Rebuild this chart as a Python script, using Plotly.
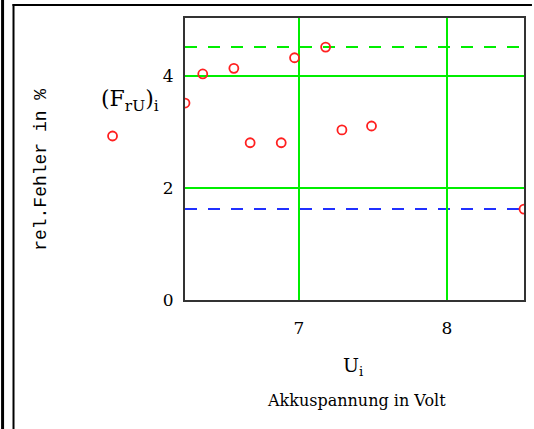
import plotly.graph_objects as go

# Data
U_volt = [6.23, 6.35, 6.56, 6.67, 6.88, 6.97, 7.18, 7.29, 7.49, 8.52]
F_rel = [3.52, 4.04, 4.14, 2.81, 2.81, 4.33, 4.52, 3.04, 3.11, 1.625]
x_ticks = [7, 8]
y_ticks = [0, 2, 4]

W, H = 534, 429
L, R, T, B = 185, 526, 18, 300


def px(xp):
    return (xp - L) / (R - L)


def py(yp):
    return (B - yp) / (B - T)


fig = go.Figure()
fig.add_trace(go.Scatter(
    x=U_volt, y=F_rel, mode="markers", name=" ",
    marker=dict(symbol="circle-open", size=9, color="#ff2020",
                line=dict(width=1.8, color="#ff2020")),
    cliponaxis=True, showlegend=True,
))

fmax, fmin = max(F_rel), min(F_rel)
fig.add_shape(type="line", xref="x domain", yref="y", x0=0, x1=1, y0=fmax, y1=fmax,
              line=dict(color="#00ee00", width=2, dash="12px,11px"), layer="below")
fig.add_shape(type="line", xref="x domain", yref="y", x0=0, x1=1, y0=fmin, y1=fmin,
              line=dict(color="#2030ff", width=2, dash="12px,11px"), layer="below")

# outer frame lines of the worksheet region
fig.add_shape(type="rect", xref="paper", yref="paper", x0=px(0), x1=px(3), y0=py(0), y1=py(H),
              fillcolor="black", line=dict(width=0))
fig.add_shape(type="line", xref="paper", yref="paper", x0=px(12.5), x1=px(12.5), y0=py(4), y1=py(H),
              line=dict(color="black", width=2))
fig.add_shape(type="line", xref="paper", yref="paper", x0=px(11.5), x1=px(W), y0=py(5), y1=py(5),
              line=dict(color="black", width=2))

serif = "DejaVu Serif"


def label(x, y, text, family, size, angle=0):
    fig.add_annotation(xref="paper", yref="paper", x=px(x), y=py(y), text=text,
                       xanchor="center", yanchor="middle", textangle=angle,
                       showarrow=False, font=dict(family=family, size=size, color="black"))


label(40, 170, "rel.Fehler in %", "Liberation Mono", 18, -90)
label(130, 100, "(F<sub>rU</sub>)<sub>i</sub>", serif, 22)
label(354, 366, "U<sub>i</sub>", serif, 19)
label(358, 400, "Akkuspannung in Volt", serif, 16)

fig.update_layout(
    width=W, height=H,
    margin=dict(l=L, r=W - R, t=T, b=H - B),
    paper_bgcolor="white", plot_bgcolor="white",
    showlegend=True,
    legend=dict(x=px(92), y=py(136), xanchor="left", yanchor="middle",
                bgcolor="rgba(0,0,0,0)", font=dict(size=10), itemwidth=30),
    xaxis=dict(range=[min(U_volt), max(U_volt)], tickvals=x_ticks, ticks="",
               showgrid=True, gridcolor="#00ee00", gridwidth=2,
               showline=True, linecolor="#333333", linewidth=2, mirror=True,
               zeroline=False, ticklabelstandoff=12,
               tickfont=dict(family=serif, size=17, color="black")),
    yaxis=dict(range=[0, 5.04], tickvals=y_ticks, ticks="",
               showgrid=True, gridcolor="#00ee00", gridwidth=2,
               showline=True, linecolor="#333333", linewidth=2, mirror=True,
               zeroline=False, ticklabelstandoff=6,
               tickfont=dict(family=serif, size=17, color="black")),
)

fig.write_html("out.html")
